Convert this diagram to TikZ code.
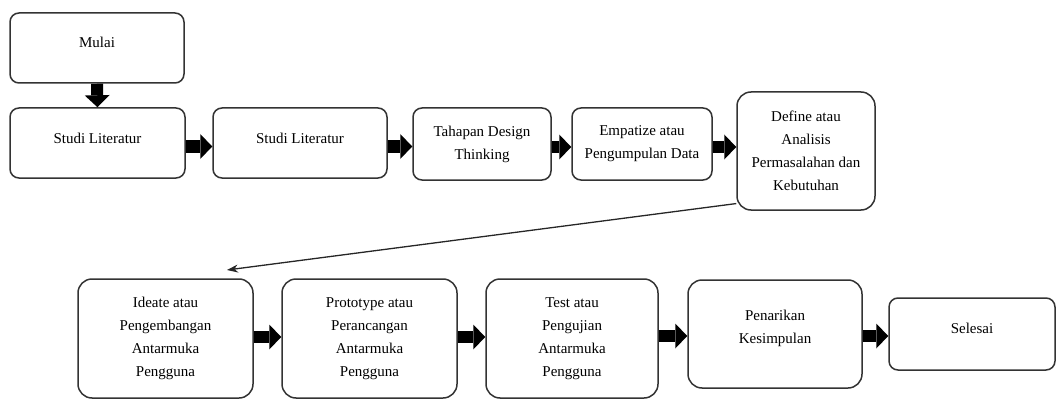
\documentclass[tikz,border=0pt]{standalone}
\usepackage{fontspec}
\setmainfont{Liberation Serif}
\usetikzlibrary{arrows.meta,calc}
\begin{document}
\begin{tikzpicture}[x=1pt,y=-1pt,
  box/.style={draw=black!80,line width=1.5pt,rounded corners=9pt,inner sep=0pt,
    align=center,text=black,font=\fontsize{15}{23}\selectfont},
  rbig/.style={rounded corners=14pt},
  sz/.style 2 args={minimum width=#1pt,minimum height=#2pt},
  blk/.style={line width=12pt,black,-{Triangle[length=12pt,width=25pt,line width=0pt]}},
  thinarr/.style={line width=1.3pt,black!85,-{Stealth[length=11pt,width=8pt]}}]
\useasboundingbox (0,0) rectangle (1057,401);
% top row
\node[box,sz={174}{70},text depth=12pt] (mulai) at (97,48) {Mulai};
\node[box,sz={175}{70},text depth=10pt] (s1) at (97.5,143) {Studi Literatur};
\node[box,sz={174}{70},text depth=10pt] (s2) at (300,143) {Studi Literatur};
\node[box,sz={138}{72}] (tah) at (482,144) {Tahapan Design\\Thinking};
\node[box,sz={140}{72}] (emp) at (642,144) {Empatize atau\\Pengumpulan Data};
\node[box,rbig,sz={138}{118}] (def) at (806,151) {Define atau\\Analisis\\Permasalahan dan\\Kebutuhan};
% bottom row
\node[box,rbig,sz={175}{119}] (ide) at (165.5,338.5) {Ideate atau\\Pengembangan\\Antarmuka\\Pengguna};
\node[box,rbig,sz={175}{119}] (pro) at (369.5,338.5) {Prototype atau\\Perancangan\\Antarmuka\\Pengguna};
\node[box,rbig,sz={172}{119}] (tes) at (572,338.5) {Test atau\\Pengujian\\Antarmuka\\Pengguna};
\node[box,rbig,sz={174}{108},text depth=14pt] (pen) at (775,334) {Penarikan\\Kesimpulan};
\node[box,sz={166}{72},text depth=12pt] (sel) at (972,334) {Selesai};
\coordinate (idtip) at (227,270);
% connectors
\draw[blk] (mulai.south) -- (s1.north);
\draw[blk] ([yshift=-3.5pt]s1.east) -- ([yshift=-3.5pt]s1.east -| s2.west);
\draw[blk] ([yshift=-3.5pt]s2.east) -- ([yshift=-3.5pt]s2.east -| tah.west);
\draw[blk] ([yshift=-3pt]tah.east) -- ([yshift=-3pt]tah.east -| emp.west);
\draw[blk] ([yshift=-3pt]emp.east) -- ([yshift=-3pt]emp.east -| def.west);
\draw[thinarr] (def.217) -- (idtip);
\draw[blk] ([yshift=1.5pt]ide.east) -- ([yshift=1.5pt]ide.east -| pro.west);
\draw[blk] ([yshift=1.5pt]pro.east) -- ([yshift=1.5pt]pro.east -| tes.west);
\draw[blk] ([yshift=2.5pt]tes.east) -- ([yshift=2.5pt]tes.east -| pen.west);
\draw[blk] ([yshift=-2pt]pen.east) -- ([yshift=-2pt]pen.east -| sel.west);
\end{tikzpicture}
\end{document}
